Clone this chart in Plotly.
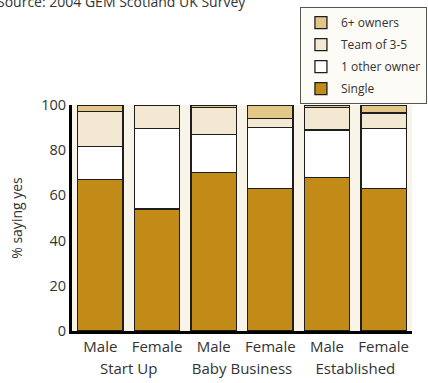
import plotly.graph_objects as go

# Ownership structure of businesses by stage and gender
stages = ["Start Up", "Start Up", "Baby Business", "Baby Business", "Established", "Established"]
genders = ["Male", "Female", "Male", "Female", "Male", "Female"]

single = [67, 54, 70, 63, 68, 63]
one_other = [14.5, 35.5, 17, 27, 21, 26.5]
team_3_5 = [15.7, 10.5, 12, 4, 10, 7]
six_plus = [2.8, 0, 1, 6, 1, 3.5]

y_ticks = [0, 20, 40, 60, 80, 100]

series = [
    ("Single", single, "#c28a17"),
    ("1 other owner", one_other, "#ffffff"),
    ("Team of 3-5", team_3_5, "#f3e8d2"),
    ("6+ owners", six_plus, "#e2c788"),
]

FONT = "Open Sans, Noto Sans, sans-serif"
TXT = "#333333"

fig = go.Figure()
for i, (name, vals, color) in enumerate(series):
    fig.add_trace(go.Bar(
        x=[stages, genders],
        y=vals,
        name=name,
        legendgroup=f"g{i}",
        legendrank=len(series) - i,
        marker=dict(color=color, line=dict(color="#1e1e1e", width=1.3)),
    ))

fig.update_layout(
    width=428, height=383,
    margin=dict(l=72, r=1, t=105, b=52),
    barmode="stack",
    bargap=0.2,
    paper_bgcolor="white",
    plot_bgcolor="#f8f4e8",
    font=dict(family=FONT, size=14, color=TXT),
    showlegend=True,
    legend=dict(
        x=(310 - 72) / 355, y=(331.5 - 7) / 226.5,
        xanchor="left", yanchor="top",
        traceorder="grouped",
        tracegroupgap=3,
        itemwidth=30,
        bgcolor="#fdfbf6",
        bordercolor="#555555", borderwidth=1,
        font=dict(family=FONT, size=12, color=TXT),
    ),
    xaxis=dict(
        type="multicategory",
        range=[-0.5, 5.5],
        showdividers=False,
        showline=True, linecolor="black", linewidth=3,
        ticks="", showgrid=False,
        tickfont=dict(family=FONT, size=15, color=TXT),
    ),
    # short inner ticks between the genders of a stage
    xaxis2=dict(
        overlaying="x", anchor="y", side="bottom",
        range=[-0.5, 5.5], tickvals=[0.5, 2.5, 4.5],
        ticks="inside", ticklen=5, tickwidth=1, tickcolor="black",
        showticklabels=False, showgrid=False, showline=False, zeroline=False,
    ),
    # longer inner ticks between stages
    xaxis3=dict(
        overlaying="x", anchor="y", side="bottom",
        range=[-0.5, 5.5], tickvals=[1.5, 3.5],
        ticks="inside", ticklen=10, tickwidth=2, tickcolor="black",
        showticklabels=False, showgrid=False, showline=False, zeroline=False,
    ),
    # thin frame along the top
    xaxis4=dict(
        overlaying="x", anchor="y", side="top",
        range=[-0.5, 5.5], showline=True, linecolor="#333333", linewidth=1.5,
        ticks="", showticklabels=False, showgrid=False, zeroline=False,
    ),
    yaxis=dict(
        range=[0, 100], tickvals=y_ticks,
        showline=True, linecolor="black", linewidth=3,
        ticks="", showgrid=False, zeroline=False,
        tickfont=dict(family=FONT, size=14.5, color=TXT),
        title=dict(text="% saying yes", font=dict(family=FONT, size=14, color=TXT), standoff=16),
    ),
    # thin frame on the right
    yaxis2=dict(
        overlaying="y", anchor="x", side="right",
        range=[0, 100], showline=True, linecolor="#333333", linewidth=1.5,
        ticks="", showticklabels=False, showgrid=False, zeroline=False,
    ),
)

fig.add_annotation(
    text="Source: 2004 GEM Scotland UK Survey",
    xref="paper", yref="paper",
    x=(-8 - 72) / 355, y=(331.5 - 1) / 226.5,
    xanchor="left", yanchor="middle",
    showarrow=False,
    font=dict(family=FONT, size=14, color=TXT),
)

fig.write_html("out.html")
